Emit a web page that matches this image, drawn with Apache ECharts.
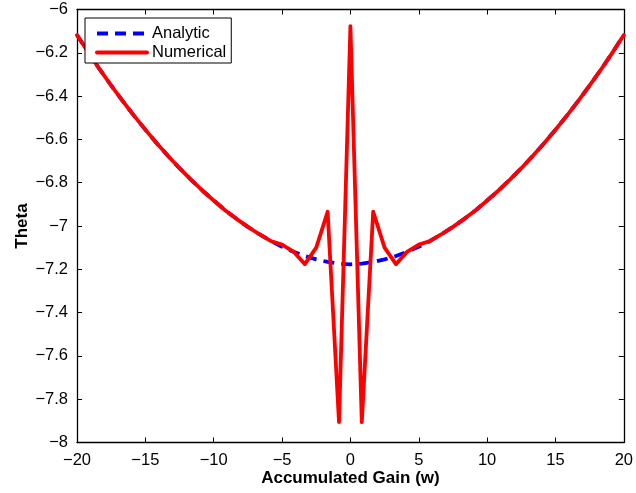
<!DOCTYPE html>
<html>
<head>
<meta charset="utf-8">
<script src="https://cdn.jsdelivr.net/npm/echarts@6/dist/echarts.min.js"></script>
<style>html,body{margin:0;padding:0;background:#fff}#c{width:636px;height:493px}</style>
</head>
<body>
<div id="c"></div>
<script>
// Shared sample positions (Accumulated Gain w)
var gainX = [-20,-19.167,-18.333,-17.5,-16.667,-15.833,-15,-14.167,-13.333,-12.5,-11.667,-10.833,-10,-9.167,-8.333,-7.5,-6.667,-5.833,-5,-4.167,-3.333,-2.5,-1.667,-0.833,0,0.833,1.667,2.5,3.333,4.167,5,5.833,6.667,7.5,8.333,9.167,10,10.833,11.667,12.5,13.333,14.167,15,15.833,16.667,17.5,18.333,19.167,20];
// Analytic theta
var analyticY = [-6.118,-6.199,-6.277,-6.351,-6.422,-6.490,-6.555,-6.618,-6.677,-6.733,-6.786,-6.836,-6.882,-6.927,-6.967,-7.004,-7.038,-7.069,-7.096,-7.119,-7.139,-7.154,-7.166,-7.174,-7.177,-7.174,-7.166,-7.154,-7.139,-7.119,-7.096,-7.069,-7.038,-7.004,-6.967,-6.927,-6.882,-6.836,-6.786,-6.733,-6.677,-6.618,-6.555,-6.490,-6.422,-6.351,-6.277,-6.199,-6.118];
// Numerical theta
var numericalY = [-6.118,-6.199,-6.277,-6.351,-6.422,-6.490,-6.555,-6.618,-6.677,-6.733,-6.786,-6.836,-6.882,-6.927,-6.967,-7.004,-7.038,-7.069,-7.086,-7.118,-7.176,-7.100,-6.934,-7.906,-6.077,-7.906,-6.934,-7.100,-7.176,-7.118,-7.086,-7.069,-7.038,-7.004,-6.967,-6.927,-6.882,-6.836,-6.786,-6.733,-6.677,-6.618,-6.555,-6.490,-6.422,-6.351,-6.277,-6.199,-6.118];
var xTicks = [-20,-15,-10,-5,0,5,10,15,20];
var yTicks = [-8,-7.8,-7.6,-7.4,-7.2,-7,-6.8,-6.6,-6.4,-6.2,-6];

function pairs(xs, ys){ return xs.map(function(x,i){ return [x, ys[i]]; }); }
function fmt(v){ return String(+(+v).toFixed(1)).replace('-', '\u2212'); }

var FONT = 'Liberation Sans';
var chart = echarts.init(document.getElementById('c'), null, {renderer:'canvas'});
var axisCommon = {
  axisLine:{show:true, onZero:false, lineStyle:{color:'#000', width:1.3}},
  axisTick:{show:true, inside:true, length:5, lineStyle:{color:'#000', width:1}},
  splitLine:{show:false}
};
chart.setOption({
  animation:false,
  backgroundColor:'#fff',
  grid:{left:77, right:9, top:9.5, bottom:50.5},
  legend:{
    show:true, orient:'vertical', left:85, top:18,
    data:['Analytic','Numerical'],
    itemWidth:50, itemHeight:14, itemGap:2,
    padding:[7,5,2,10],
    borderColor:'#000', borderWidth:1, backgroundColor:'#fff',
    itemStyle:{opacity:0},
    lineStyle:{width:4},
    textStyle:{fontFamily:FONT, fontSize:16.5, color:'#000', padding:[0,0,0,0]}
  },
  xAxis:[
    Object.assign({type:'value', min:-20, max:20, interval:5, position:'bottom',
      name:'Accumulated Gain (w)', nameLocation:'middle', nameGap:27, nameMoveOverlap:false,
      nameTextStyle:{fontFamily:FONT, fontSize:17, fontWeight:'bold', color:'#000'},
      axisLabel:{fontFamily:FONT, fontSize:16.5, color:'#000', margin:9, formatter:fmt}}, axisCommon),
    Object.assign({type:'value', min:-20, max:20, interval:5, position:'top',
      axisLabel:{show:false}}, axisCommon)
  ],
  yAxis:[
    Object.assign({type:'value', min:-8, max:-6, interval:0.2, position:'left',
      name:'Theta', nameLocation:'middle', nameGap:46, nameRotate:90, nameMoveOverlap:false,
      nameTextStyle:{fontFamily:FONT, fontSize:17, fontWeight:'bold', color:'#000'},
      axisLabel:{fontFamily:FONT, fontSize:16.5, color:'#000', margin:9, formatter:fmt}}, axisCommon),
    Object.assign({type:'value', min:-8, max:-6, interval:0.2, position:'right',
      axisLabel:{show:false}}, axisCommon)
  ],
  series:[
    {name:'Analytic', type:'line', data:pairs(gainX, analyticY), showSymbol:false, symbol:'none',
      lineStyle:{color:'#0000ff', width:3.8, type:[11,7], cap:'butt'}, itemStyle:{color:'#0000ff'}, z:2},
    {name:'Numerical', type:'line', data:pairs(gainX, numericalY), showSymbol:false, symbol:'none',
      lineStyle:{color:'#ff0000', width:3.8, join:'round', cap:'round'}, itemStyle:{color:'#ff0000'}, z:3}
  ]
});
</script>
</body>
</html>
